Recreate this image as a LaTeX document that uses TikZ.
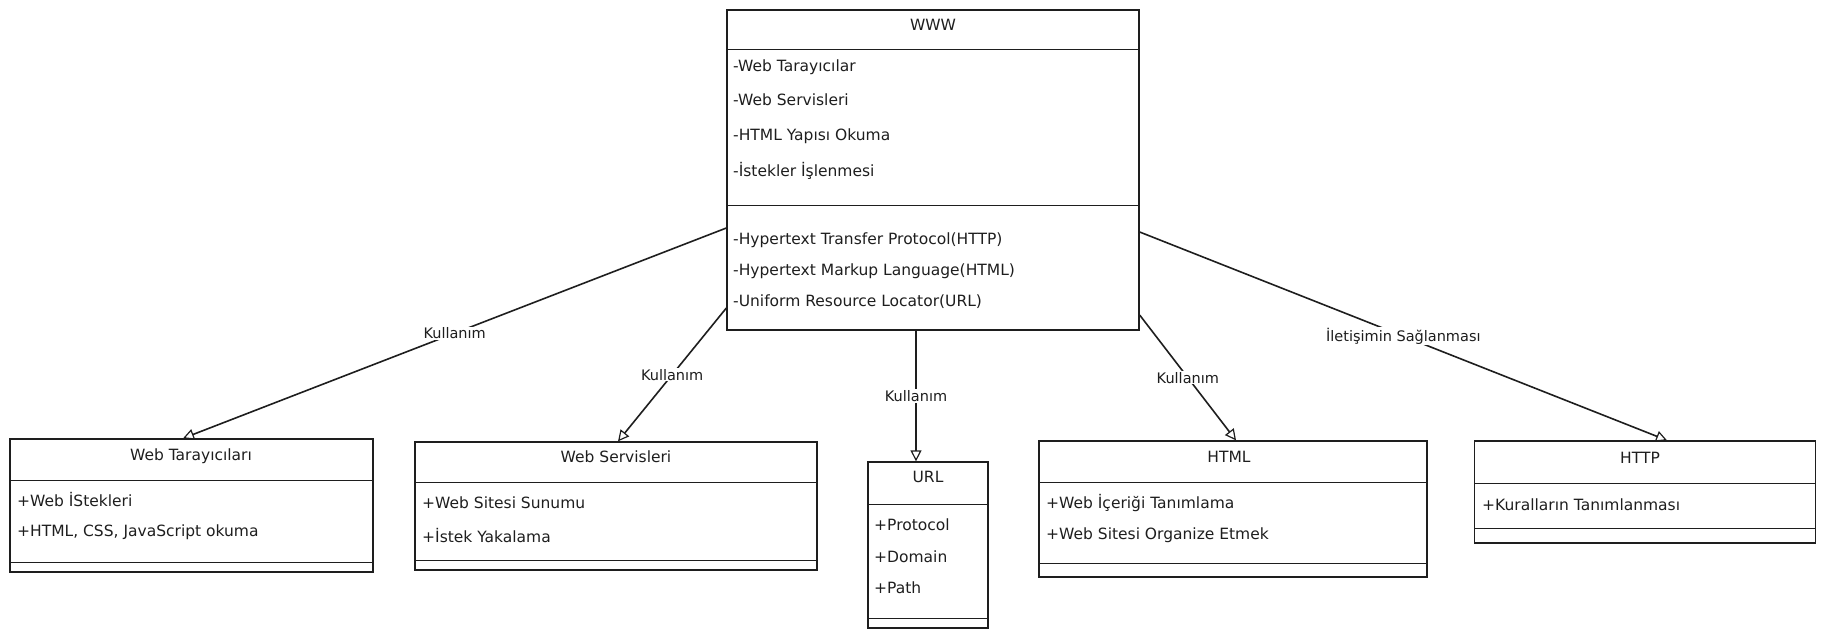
\documentclass[tikz,border=0pt]{standalone}
\usepackage{fontspec}
\setmainfont{DejaVu Sans}
\usetikzlibrary{arrows.meta}
\definecolor{ink}{HTML}{1E1E1E}
\tikzset{
    box/.style={draw=ink,line width=1.3pt,inner sep=0pt},
    sep/.style={draw=ink,line width=0.8pt},
    item/.style={anchor=west,inner sep=0pt,text=ink,font=\fontsize{15.5}{18}\selectfont},
    title/.style={inner sep=0pt,text=ink,font=\fontsize{15.5}{18}\selectfont},
    uses/.style={draw=ink,line width=1.6pt,-{Triangle[open,length=11pt,width=11pt,line width=1.2pt]}},
    lbl/.style={fill=white,inner sep=1pt,text=ink,font=\fontsize{14.5}{17}\selectfont}
}
\begin{document}
\begin{tikzpicture}[x=1pt,y=-1pt]
    \useasboundingbox (0,0) rectangle (1827,639);

    % main class
    \node[box,minimum width=412pt,minimum height=320pt] (www) at (933,170) {};
    \node[title] at (933,25) {WWW};
    \draw[sep] (727,49) -- (1139,49);
    \node[item] at (733,67) {-Web Tarayıcılar};
    \node[item] at (733,100) {-Web Servisleri};
    \node[item] at (733,136) {-HTML Yapısı Okuma};
    \node[item] at (733,171) {-İstekler İşlenmesi};
    \draw[sep] (727,205) -- (1139,205);
    \node[item] at (733,240) {-Hypertext Transfer Protocol(HTTP)};
    \node[item] at (733,271) {-Hypertext Markup Language(HTML)};
    \node[item] at (733,302) {-Uniform Resource Locator(URL)};

    % Web Tarayicilari
    \node[box,minimum width=363pt,minimum height=133pt] (tar) at (191.5,505.5) {};
    \node[title] at (191,456) {Web Tarayıcıları};
    \draw[sep] (10,480) -- (373,480);
    \node[item] at (17,500) {+Web İStekleri};
    \node[item] at (17,532) {+HTML, CSS, JavaScript okuma};
    \draw[sep] (10,562) -- (373,562);

    % Web Servisleri
    \node[box,minimum width=402pt,minimum height=128pt] (ser) at (616,506) {};
    \node[title] at (616,457) {Web Servisleri};
    \draw[sep] (415,482) -- (817,482);
    \node[item] at (422,503) {+Web Sitesi Sunumu};
    \node[item] at (422,536) {+İstek Yakalama};
    \draw[sep] (415,560) -- (817,560);

    % URL
    \node[box,minimum width=120pt,minimum height=166pt] (url) at (928,545) {};
    \node[title] at (928,477) {URL};
    \draw[sep] (868,504) -- (988,504);
    \node[item] at (874,525) {+Protocol};
    \node[item] at (874,557) {+Domain};
    \node[item] at (874,588) {+Path};
    \draw[sep] (868,618) -- (988,618);

    % HTML
    \node[box,minimum width=388pt,minimum height=136pt] (html) at (1233,509) {};
    \node[title] at (1229,457) {HTML};
    \draw[sep] (1039,482) -- (1427,482);
    \node[item] at (1046,503) {+Web İçeriği Tanımlama};
    \node[item] at (1046,535) {+Web Sitesi Organize Etmek};
    \draw[sep] (1039,563) -- (1427,563);

    % HTTP
    \node[box,minimum width=341pt,minimum height=102pt] (http) at (1645,492) {};
    \node[title] at (1640,458) {HTTP};
    \draw[sep] (1475,483) -- (1816,483);
    \node[item] at (1482,505) {+Kuralların Tanımlanması};
    \draw[sep] (1475,528) -- (1816,528);

    % connectors
    \draw[uses] (www.west |- 0,228) -- node[lbl,pos=0.5] {Kullanım} (tar.north -| 183,0);
    \draw[uses] (www.west |- 0,308) -- node[lbl] {Kullanım} (ser.north -| 618,0);
    \draw[uses] (www.south -| 916,0) -- node[lbl] {Kullanım} (url.north -| 916,0);
    \draw[uses] (www.east |- 0,315) -- node[lbl] {Kullanım} (html.north -| 1236,0);
    \draw[uses] (www.east |- 0,232) -- node[lbl] {İletişimin Sağlanması} (http.north -| 1667,0);
\end{tikzpicture}
\end{document}
